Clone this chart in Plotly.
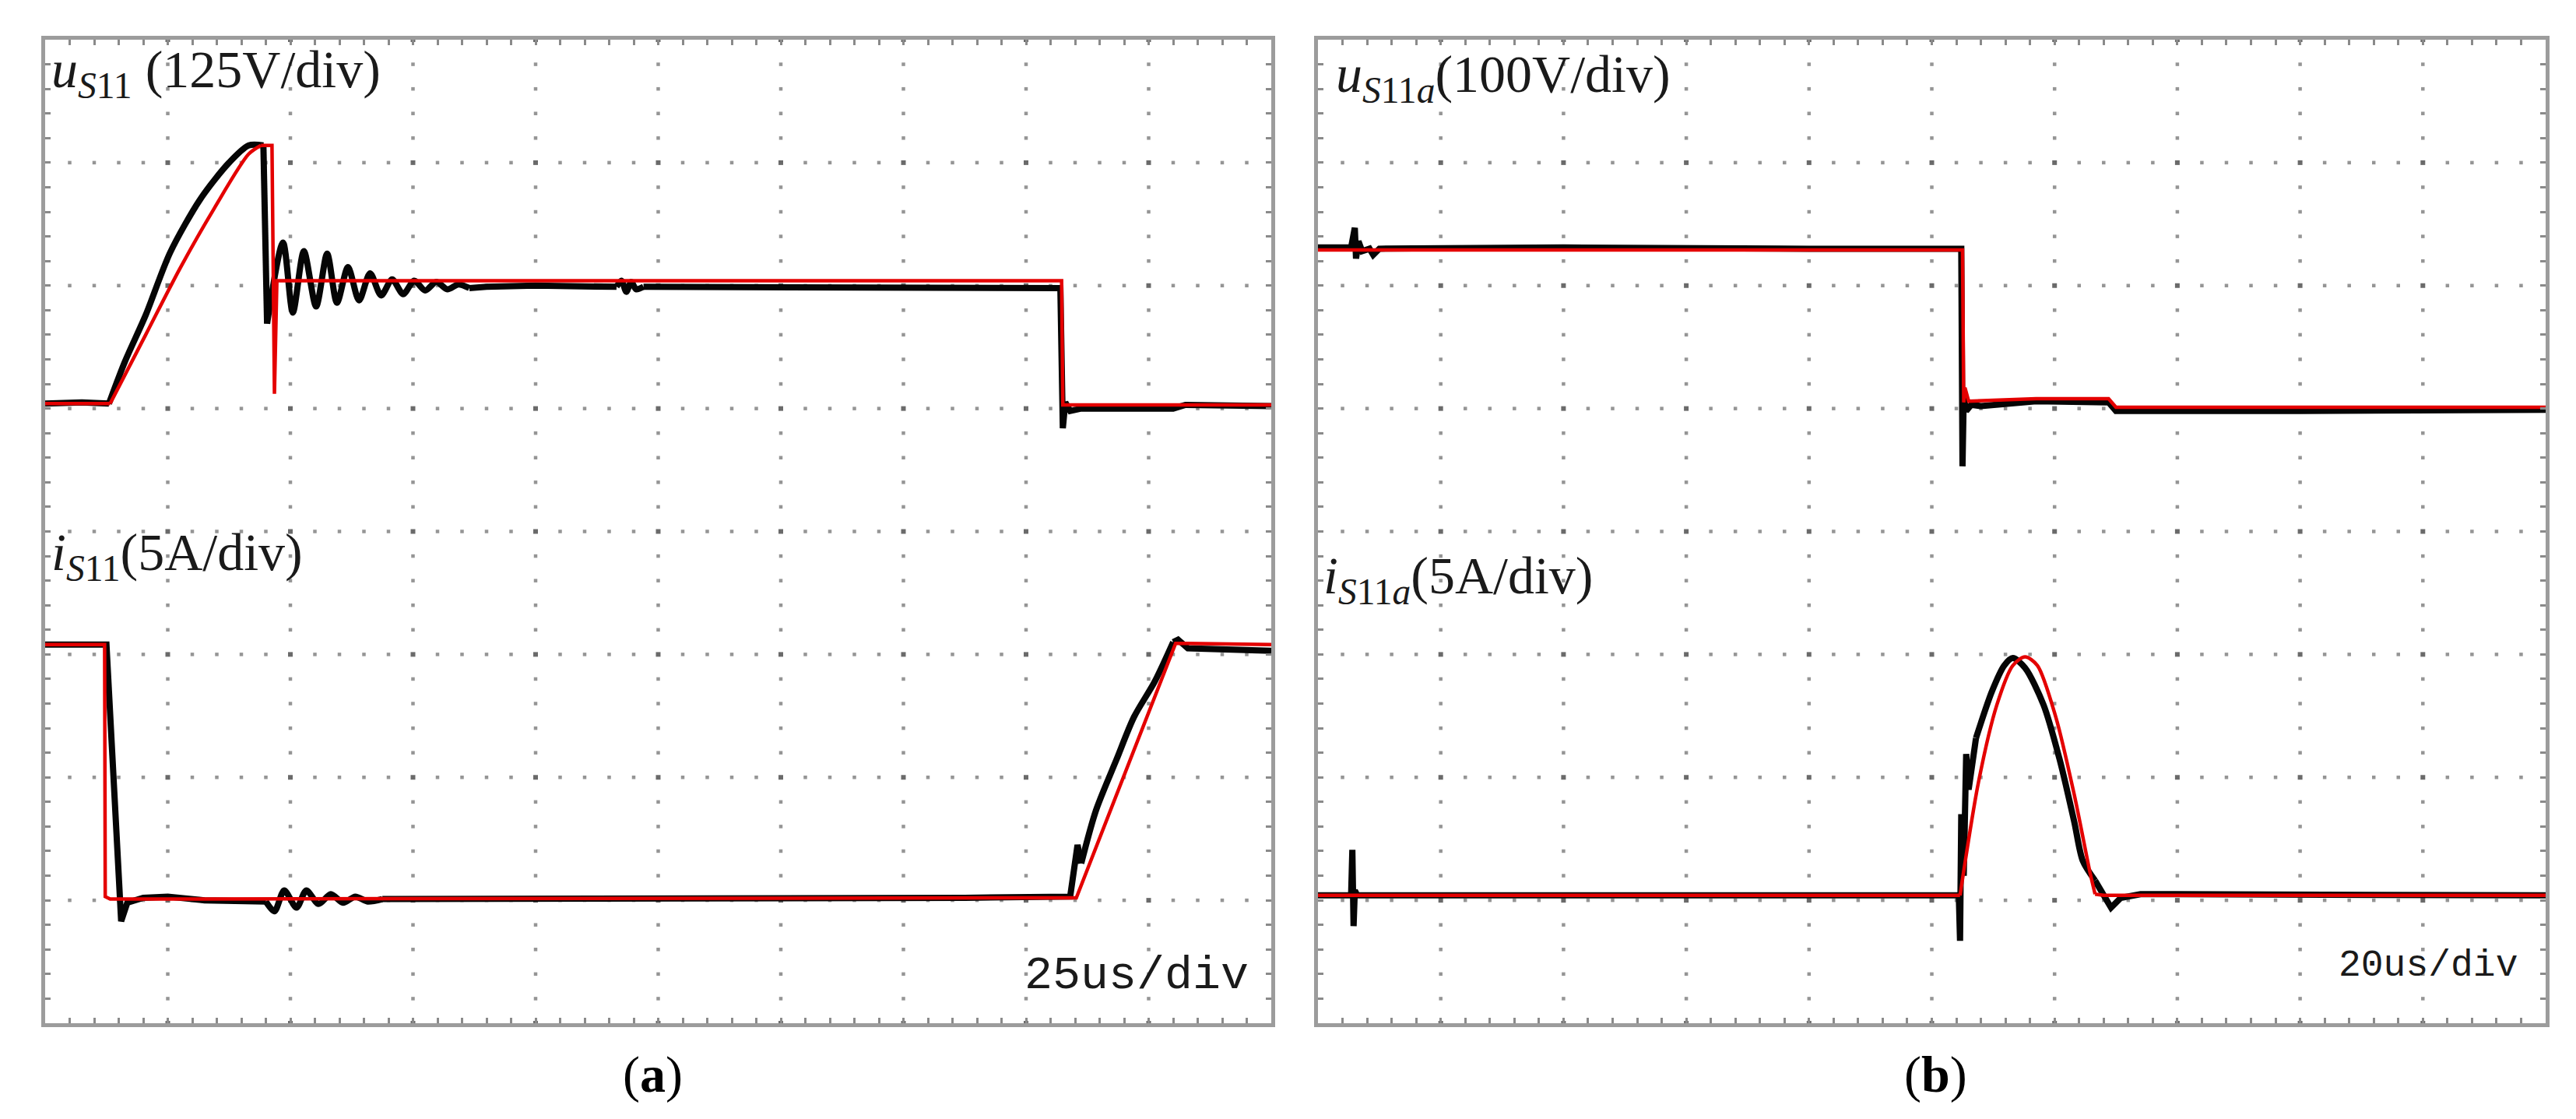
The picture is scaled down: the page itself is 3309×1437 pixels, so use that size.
import numpy as np
import plotly.graph_objects as go

W, H = 3309, 1437

# ---------------- data (time / amplitude in screen divisions) ----------------
# Panel (a): switch voltage u_S11 (measured = black, simulated/reference = red)
UA_MEAS_T = [0.00, 0.30, 0.52, 0.65, 0.82, 1.02, 1.27, 1.50, 1.66, 1.78, 1.81, 1.94, 2.02, 2.11,
             2.21, 2.30, 2.38, 2.47, 2.56, 2.65, 2.74, 2.83, 2.92, 3.01, 3.10, 3.19, 3.28, 3.37,
             3.46, 3.60, 4.00, 4.40, 4.66, 4.70, 4.74, 4.78, 4.82, 4.88, 5.50, 6.50, 7.50, 8.28,
             8.30, 8.32, 8.36, 8.45, 9.20, 9.30, 10.00]
UA_MEAS_V = [5.04, 5.05, 5.04, 5.38, 5.76, 6.27, 6.71, 7.00, 7.14, 7.14, 5.69, 6.35, 5.78, 6.28,
             5.83, 6.26, 5.86, 6.15, 5.88, 6.10, 5.92, 6.05, 5.93, 6.04, 5.96, 6.03, 5.97, 6.01,
             5.98, 5.99, 6.00, 5.99, 5.99, 6.04, 5.95, 6.03, 5.97, 5.99, 5.99, 5.98, 5.99, 5.98,
             4.84, 5.05, 4.98, 5.00, 5.00, 5.03, 5.02]
UA_REF_T = [0.00, 0.53, 0.82, 1.10, 1.38, 1.66, 1.76, 1.85, 1.87, 1.89, 8.29, 8.30, 10.00]
UA_REF_V = [5.04, 5.04, 5.60, 6.14, 6.63, 7.07, 7.14, 7.14, 5.12, 6.04, 6.04, 5.03, 5.03]

# Panel (a): switch current i_S11
IA_MEAS_T = [0.00, 0.50, 0.62, 0.67, 0.80, 1.00, 1.30, 1.60, 1.80, 1.87, 1.95, 2.05, 2.13, 2.23,
             2.33, 2.43, 2.53, 2.63, 2.75, 3.20, 4.50, 6.00, 7.50, 8.36, 8.42, 8.45, 8.57, 8.74,
             8.88, 9.05, 9.20, 9.24, 9.32, 10.00]
IA_MEAS_V = [3.08, 3.08, 0.83, 0.98, 1.02, 1.03, 1.00, 0.99, 0.99, 0.91, 1.08, 0.94, 1.08, 0.97,
             1.05, 0.98, 1.03, 0.99, 1.01, 1.01, 1.01, 1.02, 1.02, 1.03, 1.45, 1.30, 1.73, 2.15,
             2.49, 2.78, 3.10, 3.12, 3.05, 3.03]
IA_REF_T = [0.00, 0.485, 0.49, 0.53, 8.41, 9.22, 10.00]
IA_REF_V = [3.08, 3.08, 1.03, 1.01, 1.02, 3.09, 3.08]

# Panel (b): auxiliary switch voltage u_S11a
UB_MEAS_T = [0.00, 0.27, 0.30, 0.31, 0.33, 0.36, 0.42, 0.45, 0.50, 2.00, 4.00, 5.24, 5.25, 5.26,
             5.28, 5.32, 5.40, 5.85, 6.44, 6.50, 8.00, 10.00]
UB_MEAS_V = [6.31, 6.31, 6.47, 6.22, 6.36, 6.28, 6.30, 6.25, 6.30, 6.31, 6.30, 6.30, 4.53, 5.10,
             4.98, 5.03, 5.02, 5.06, 5.05, 4.98, 4.98, 4.99]
UB_REF_T = [0.00, 5.25, 5.26, 5.27, 5.30, 5.85, 6.44, 6.50, 10.00]
UB_REF_V = [6.29, 6.29, 5.05, 5.17, 5.06, 5.08, 5.08, 5.01, 5.01]

# Panel (b): auxiliary switch current i_S11a
IB_MEAS_T = [0.00, 0.27, 0.28, 0.29, 0.30, 0.32, 5.22, 5.23, 5.24, 5.26, 5.28, 5.30, 5.36, 5.49,
             5.59, 5.66, 5.76, 5.91, 6.04, 6.16, 6.23, 6.33, 6.46, 6.54, 6.70, 10.00]
IB_MEAS_V = [1.04, 1.04, 1.41, 0.79, 1.08, 1.04, 1.04, 0.67, 1.70, 1.20, 2.19, 1.90, 2.32, 2.70,
             2.91, 2.97, 2.89, 2.59, 2.15, 1.64, 1.32, 1.16, 0.94, 1.02, 1.05, 1.04]
IB_REF_T = [0.00, 5.23, 5.38, 5.53, 5.66, 5.76, 5.86, 6.01, 6.16, 6.29, 6.33, 6.40, 10.00]
IB_REF_V = [1.04, 1.04, 1.96, 2.59, 2.91, 2.98, 2.91, 2.49, 1.86, 1.22, 1.05, 1.04, 1.04]

LABEL_UA = "<i>u</i><sub><i>S</i>11</sub> (125V/div)"
LABEL_IA = "<i>i</i><sub><i>S</i>11</sub>(5A/div)"
LABEL_UB = "<i>u</i><sub><i>S</i>11<i>a</i></sub>(100V/div)"
LABEL_IB = "<i>i</i><sub><i>S</i>11<i>a</i></sub>(5A/div)"
TIMEBASE_A = "25us/div"
TIMEBASE_B = "20us/div"
CAPTIONS = ["(<b>a</b>)", "(<b>b</b>)"]

N_XDIV, N_YDIV = 10, 8

# ---------------- layout geometry ----------------
PAN_A = (50, 1625)
PAN_B = (1685, 3262)
TOP, BOT = 43, 1306

BLACK = "#050505"
RED = "#e40000"

fig = go.Figure()


def segments(t, spans):
    cuts = sorted((t.index(a), t.index(b)) for a, b in spans)
    segs, pos = [], 0
    for i0, i1 in cuts:
        if i0 > pos:
            segs.append((pos, i0, "linear"))
        segs.append((i0, i1, "spline"))
        pos = i1
    if pos < len(t) - 1:
        segs.append((pos, len(t) - 1, "linear"))
    return segs


def add_wave(t, v, color, width, spans, xa, ya):
    for i0, i1, shape in segments(t, spans):
        fig.add_trace(go.Scatter(
            x=t[i0:i1 + 1], y=v[i0:i1 + 1], mode="lines",
            line=dict(color=color, width=width, shape=shape, smoothing=0.8 if shape == "spline" else None),
            xaxis=xa, yaxis=ya, showlegend=False, hoverinfo="skip"))


def add_graticule(xa, ya):
    step = 0.2
    xs, ys = [], []
    for gx in range(1, N_XDIV):
        for k in range(1, N_YDIV * 5):
            if k % 5:
                xs.append(gx); ys.append(k * step)
    for gy in range(1, N_YDIV):
        for k in range(1, N_XDIV * 5):
            if k % 5:
                xs.append(k * step); ys.append(gy)
    fig.add_trace(go.Scatter(x=xs, y=ys, mode="markers",
                             marker=dict(symbol="square", size=4.5, color="#959595"),
                             xaxis=xa, yaxis=ya, showlegend=False, hoverinfo="skip"))
    cx, cy = [], []
    for gx in range(1, N_XDIV):
        for gy in range(1, N_YDIV):
            cx.append(gx); cy.append(gy)
    for gx in range(1, N_XDIV):
        cx += [gx, gx]; cy += [0.0, N_YDIV]
    fig.add_trace(go.Scatter(x=cx, y=cy, mode="markers",
                             marker=dict(symbol="square", size=6, color="#6a6a6a"),
                             xaxis=xa, yaxis=ya, showlegend=False, hoverinfo="skip"))


# panel (a)
add_graticule("x", "y")
add_wave(UA_MEAS_T, UA_MEAS_V, BLACK, 8, [(0.52, 1.78), (1.81, 3.46), (4.66, 4.88)], "x", "y")
add_wave(IA_MEAS_T, IA_MEAS_V, BLACK, 8, [(1.80, 2.75), (8.45, 9.20)], "x", "y")
add_wave(UA_REF_T, UA_REF_V, RED, 4.5, [(0.53, 1.76)], "x", "y")
add_wave(IA_REF_T, IA_REF_V, RED, 4.5, [], "x", "y")

# panel (b)
add_graticule("x2", "y2")
add_wave(UB_MEAS_T, UB_MEAS_V, BLACK, 8, [], "x2", "y2")
add_wave(IB_MEAS_T, IB_MEAS_V, BLACK, 8, [(5.36, 6.33)], "x2", "y2")
add_wave(UB_REF_T, UB_REF_V, RED, 4.5, [], "x2", "y2")
add_wave(IB_REF_T, IB_REF_V, RED, 4.5, [(5.23, 6.33)], "x2", "y2")

ydom = [1 - BOT / H, 1 - TOP / H]
axis_common = dict(showgrid=False, zeroline=False, showline=True, linecolor="#9c9c9c",
                   linewidth=5, mirror="ticks", ticks="inside", tickcolor="#8a8a8a",
                   ticklen=7, tickwidth=3, tick0=0, dtick=0.2, showticklabels=False,
                   fixedrange=True)

fig.update_layout(
    width=W, height=H, paper_bgcolor="white", plot_bgcolor="white",
    margin=dict(l=0, r=0, t=0, b=0), showlegend=False,
    xaxis=dict(domain=[PAN_A[0] / W, PAN_A[1] / W], range=[0, N_XDIV], anchor="y", **axis_common),
    yaxis=dict(domain=ydom, range=[0, N_YDIV], anchor="x", **axis_common),
    xaxis2=dict(domain=[PAN_B[0] / W, PAN_B[1] / W], range=[0, N_XDIV], anchor="y2", **axis_common),
    yaxis2=dict(domain=ydom, range=[0, N_YDIV], anchor="x2", **axis_common),
)

serif = "Liberation Serif"
ann = [
    dict(text=LABEL_UA, x=56 / W, y=1 - 85 / H, size=68),
    dict(text=LABEL_IA, x=56 / W, y=1 - 705 / H, size=68),
    dict(text=LABEL_UB, x=1706 / W, y=1 - 92 / H, size=68),
    dict(text=LABEL_IB, x=1690 / W, y=1 - 735 / H, size=68),
]
for a in ann:
    fig.add_annotation(text=a["text"], x=a["x"], y=a["y"], xref="paper", yref="paper",
                       xanchor="left", yanchor="middle", showarrow=False,
                       font=dict(family=serif, size=a["size"], color="#1a1a1a"))

fig.add_annotation(text=TIMEBASE_A, x=1598 / W, y=1 - 1245 / H, xref="paper", yref="paper",
                   xanchor="right", yanchor="middle", showarrow=False,
                   font=dict(family="Liberation Mono", size=60, color="#1a1a1a"))
fig.add_annotation(text=TIMEBASE_B, x=3228 / W, y=1 - 1232 / H, xref="paper", yref="paper",
                   xanchor="right", yanchor="middle", showarrow=False,
                   font=dict(family="Liberation Mono", size=48, color="#1a1a1a"))

for cx, txt in zip([830, 2478], CAPTIONS):
    fig.add_annotation(text=txt, x=cx / W, y=1 - 1372 / H, xref="paper", yref="paper",
                       xanchor="center", yanchor="middle", showarrow=False,
                       font=dict(family=serif, size=66, color="black"))

fig.write_html("out.html")
